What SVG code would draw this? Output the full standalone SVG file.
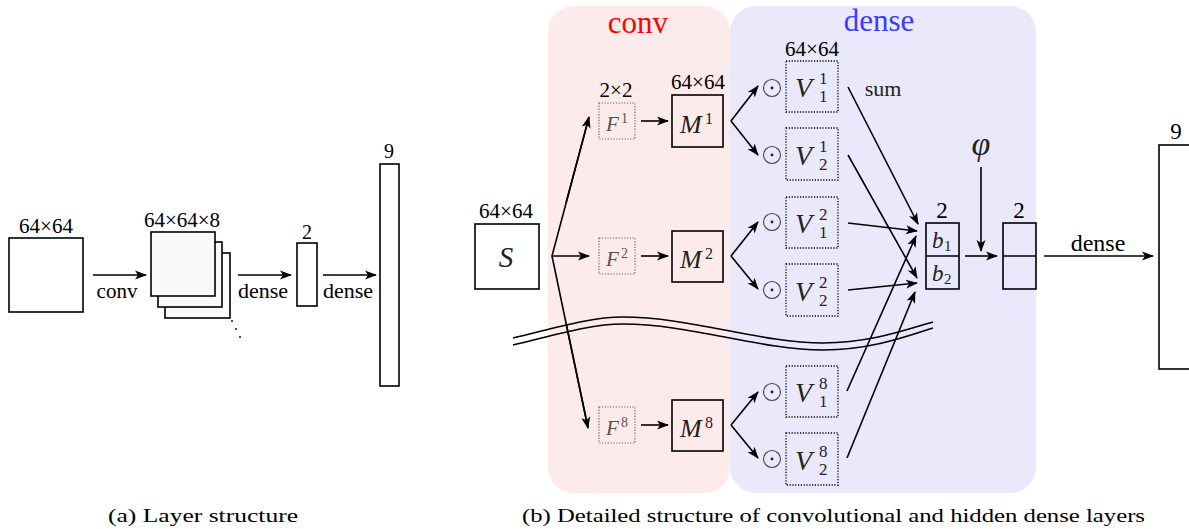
<svg xmlns="http://www.w3.org/2000/svg" width="1189" height="529" viewBox="0 0 1189 529" font-family="'Liberation Serif', serif">
<defs>
<marker id="ah" viewBox="0 0 12 10" refX="11" refY="5" markerWidth="12.5" markerHeight="10" orient="auto" markerUnits="userSpaceOnUse"><path d="M0,0.5 L12,5 L0,9.5 L3,5 z" fill="#000"/></marker>
<style>
text{font-family:'Liberation Serif',serif}
.c{text-anchor:middle}
.mi{font-style:italic;fill:#222}
.sc{fill:#222}
.gr{fill:#555}
.box{fill:none;stroke:#000;stroke-width:1.6}
.wbox{fill:#fafafa;stroke:#000;stroke-width:1.6}
.dot{fill:none;stroke:#000;stroke-width:1.3;stroke-dasharray:1.2 1.6}
.gdot{fill:none;stroke:#666;stroke-width:1.2;stroke-dasharray:1.2 1.6}
.ar{fill:none;stroke:#000;stroke-width:1.6;marker-end:url(#ah)}
.ln{fill:none;stroke:#000;stroke-width:1.6}
.od{fill:none;stroke:#444;stroke-width:1.1}
</style>
</defs>
<rect width="1189" height="529" fill="#fff"/>

<g id="conv-panel">
<rect x="548" y="6" width="182" height="487" rx="26" fill="#fdebeb"/>
<text class="c" x="638" y="33" font-size="31" fill="#ff0000">conv</text>
</g>
<g id="dense-panel">
<rect x="730" y="6" width="306" height="487" rx="26" fill="#e9e9fb"/>
<text class="c" x="879" y="31" font-size="31" fill="#3c3cff">dense</text>
</g>

<g id="a-input">
<rect class="box" x="9" y="238" width="74" height="74"/>
<text class="c" x="46" y="233" font-size="21">64×64</text>
</g>
<g id="a-conv">
<rect class="wbox" x="165" y="253" width="65" height="65"/>
<rect class="wbox" x="158" y="242" width="64" height="65"/>
<rect class="wbox" x="151" y="232" width="64" height="64"/>
<text class="c" x="182" y="227" font-size="21">64×64×8</text>
<circle cx="232" cy="321" r="0.9" fill="#000"/>
<circle cx="236" cy="329" r="0.9" fill="#000"/>
<circle cx="240" cy="337" r="0.9" fill="#000"/>
</g>
<g id="a-hidden">
<rect class="box" x="297" y="243" width="20" height="63"/>
<text class="c" x="307" y="239" font-size="20">2</text>
</g>
<g id="a-output">
<rect class="box" x="380" y="164" width="19" height="222"/>
<text class="c" x="389" y="158" font-size="20">9</text>
</g>
<g id="a-connectors">
<line class="ar" x1="93" y1="275" x2="146" y2="275"/>
<text class="c" x="117" y="298" font-size="21">conv</text>
<line class="ar" x1="238" y1="275" x2="291" y2="275"/>
<text class="c" x="263" y="298" font-size="22">dense</text>
<line class="ar" x1="323" y1="275" x2="376" y2="275"/>
<text class="c" x="348" y="298" font-size="22">dense</text>
</g>

<g id="S">
<rect class="box" x="475" y="224" width="64" height="65"/>
<text class="c" x="506" y="218" font-size="21">64×64</text>
<text class="mi c" x="506" y="267" font-size="29">S</text>
</g>

<g id="F1">
<rect class="gdot" x="599" y="103" width="36" height="36"/>
<text class="c" x="616" y="97" font-size="21">2×2</text>
<text class="mi gr" x="606" y="131" font-size="21" style="fill:#555">F</text>
<text class="gr" x="621" y="123" font-size="14">1</text>
</g>
<g id="F2">
<rect class="gdot" x="599" y="238" width="36" height="36"/>
<text class="mi gr" x="606" y="266" font-size="21" style="fill:#555">F</text>
<text class="gr" x="621" y="258" font-size="14">2</text>
</g>
<g id="F8">
<rect class="gdot" x="599" y="407" width="36" height="36"/>
<text class="mi gr" x="606" y="435" font-size="21" style="fill:#555">F</text>
<text class="gr" x="621" y="427" font-size="14">8</text>
</g>

<g id="M1">
<rect class="box" x="672" y="95" width="51" height="52"/>
<text class="c" x="698" y="89" font-size="21">64×64</text>
<text class="mi" x="680" y="133" font-size="26">M</text>
<text class="sc" x="705" y="124" font-size="16">1</text>
</g>
<g id="M2">
<rect class="box" x="672" y="231" width="51" height="51"/>
<text class="mi" x="680" y="268" font-size="26">M</text>
<text class="sc" x="705" y="259" font-size="16">2</text>
</g>
<g id="M8">
<rect class="box" x="672" y="400" width="51" height="51"/>
<text class="mi" x="680" y="437" font-size="26">M</text>
<text class="sc" x="705" y="428" font-size="16">8</text>
</g>

<g id="V11">
<circle class="od" cx="772" cy="88" r="8.5"/><circle cx="772" cy="88" r="1.4" fill="#222"/>
<rect class="dot" x="786" y="61" width="52" height="51"/>
<text class="c" x="812" y="56" font-size="21">64×64</text>
<text class="mi" x="795" y="97" font-size="28">V</text>
<text class="sc" x="819" y="84" font-size="17">1</text>
<text class="sc" x="819" y="102" font-size="17">1</text>
</g>
<g id="V21">
<circle class="od" cx="772" cy="155" r="8.5"/><circle cx="772" cy="155" r="1.4" fill="#222"/>
<rect class="dot" x="786" y="128" width="52" height="52"/>
<text class="mi" x="795" y="164.5" font-size="28">V</text>
<text class="sc" x="819" y="151.5" font-size="17">1</text>
<text class="sc" x="819" y="169.5" font-size="17">2</text>
</g>
<g id="V12">
<circle class="od" cx="772" cy="222" r="8.5"/><circle cx="772" cy="222" r="1.4" fill="#222"/>
<rect class="dot" x="786" y="197" width="52" height="51"/>
<text class="mi" x="795" y="233" font-size="28">V</text>
<text class="sc" x="819" y="220" font-size="17">2</text>
<text class="sc" x="819" y="238" font-size="17">1</text>
</g>
<g id="V22">
<circle class="od" cx="772" cy="290" r="8.5"/><circle cx="772" cy="290" r="1.4" fill="#222"/>
<rect class="dot" x="786" y="264" width="52" height="52"/>
<text class="mi" x="795" y="300.5" font-size="28">V</text>
<text class="sc" x="819" y="287.5" font-size="17">2</text>
<text class="sc" x="819" y="305.5" font-size="17">2</text>
</g>
<g id="V18">
<circle class="od" cx="772" cy="392" r="8.5"/><circle cx="772" cy="392" r="1.4" fill="#222"/>
<rect class="dot" x="786" y="366" width="52" height="51"/>
<text class="mi" x="795" y="402" font-size="28">V</text>
<text class="sc" x="819" y="389" font-size="17">8</text>
<text class="sc" x="819" y="407" font-size="17">1</text>
</g>
<g id="V28">
<circle class="od" cx="772" cy="459" r="8.5"/><circle cx="772" cy="459" r="1.4" fill="#222"/>
<rect class="dot" x="786" y="433" width="52" height="52"/>
<text class="mi" x="795" y="469.5" font-size="28">V</text>
<text class="sc" x="819" y="456.5" font-size="17">8</text>
<text class="sc" x="819" y="474.5" font-size="17">2</text>
</g>

<g id="b">
<rect class="box" x="926" y="223" width="33" height="66"/>
<line class="ln" x1="926" y1="256" x2="959" y2="256"/>
<text class="c" x="942" y="218" font-size="23">2</text>
<text class="mi" x="932" y="248" font-size="23">b</text>
<text class="sc" x="944" y="251" font-size="15">1</text>
<text class="mi" x="932" y="281" font-size="23">b</text>
<text class="sc" x="944" y="284" font-size="15">2</text>
</g>
<g id="phi">
<text class="mi c" x="981" y="155" font-size="34">φ</text>
</g>
<g id="act">
<rect class="box" x="1003" y="223" width="33" height="66"/>
<line class="ln" x1="1003" y1="256" x2="1036" y2="256"/>
<text class="c" x="1019" y="218" font-size="23">2</text>
</g>
<g id="out">
<rect class="box" x="1159" y="145" width="60" height="224"/>
<text class="c" x="1176" y="139" font-size="23">9</text>
</g>

<g id="connectors">
<polyline class="ln" points="589,117 552,256 588,428"/>
<line class="ar" x1="566" y1="203" x2="589" y2="117"/>
<line class="ar" x1="566" y1="323" x2="588" y2="428"/>
<line class="ar" x1="552" y1="256" x2="589" y2="256"/>
<line class="ar" x1="641" y1="121" x2="668" y2="121"/>
<line class="ar" x1="641" y1="256" x2="668" y2="256"/>
<line class="ar" x1="641" y1="425" x2="668" y2="425"/>
<line class="ar" x1="731" y1="121" x2="758" y2="86"/>
<line class="ar" x1="731" y1="121" x2="758" y2="155"/>
<line class="ar" x1="731" y1="256" x2="758" y2="222"/>
<line class="ar" x1="731" y1="256" x2="758" y2="289"/>
<line class="ar" x1="731" y1="425" x2="758" y2="392"/>
<line class="ar" x1="731" y1="425" x2="758" y2="458"/>
<line class="ar" x1="848" y1="87" x2="918" y2="224"/>
<text class="c sc" x="883" y="96" font-size="22">sum</text>
<line class="ar" x1="848" y1="155" x2="917" y2="278"/>
<line class="ar" x1="848" y1="223" x2="917" y2="231"/>
<line class="ar" x1="848" y1="290" x2="917" y2="283"/>
<line class="ar" x1="847" y1="391" x2="916" y2="236"/>
<line class="ar" x1="847" y1="458" x2="915" y2="292"/>
<line class="ar" x1="965" y1="256" x2="997" y2="256"/>
<line class="ar" x1="981" y1="167" x2="981" y2="251"/>
<line class="ar" x1="1044" y1="256" x2="1153" y2="256"/>
<text class="c" x="1098" y="251" font-size="24">dense</text>
</g>

<g id="break">
<path class="ln" d="M513,338 C555,328 590,317 623,317 C690,317 760,343 823,343 C870,343 905,330 933,322"/>
<path class="ln" d="M513,345 C555,335 590,324 623,324 C690,324 760,350 823,350 C870,350 905,337 933,328"/>
</g>

<g id="captions">
<text x="108" y="522" font-size="19" textLength="190" lengthAdjust="spacingAndGlyphs">(a) Layer structure</text>
<text x="522" y="522" font-size="19" textLength="623" lengthAdjust="spacingAndGlyphs">(b) Detailed structure of convolutional and hidden dense layers</text>
</g>
</svg>
